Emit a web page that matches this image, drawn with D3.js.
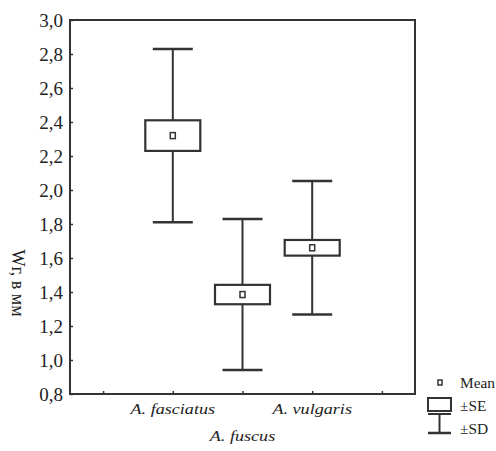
<!DOCTYPE html>
<html>
<head>
<meta charset="utf-8">
<script src="https://cdn.jsdelivr.net/npm/d3@7"></script>
<style>
  body { margin: 0; background: #fff; }
  text { font-family: "Liberation Serif", Tinos, "Times New Roman", Times, "DejaVu Serif", serif; fill: #222; }
</style>
</head>
<body>
<svg id="chart"></svg>
<script>
// Data
const species = ["A. fasciatus", "A. fuscus", "A. vulgaris"];
const means = [2.32, 1.385, 1.66];
const se = [0.09, 0.057, 0.046];
const sd = [0.51, 0.444, 0.393];
const yTicks = [0.8, 1.0, 1.2, 1.4, 1.6, 1.8, 2.0, 2.2, 2.4, 2.6, 2.8, 3.0];
const xTicks = [0, 1, 2, 3, 4];
const labelRow = [0, 1, 0]; // staggered category labels

const width = 496, height = 451;
const frame = {left: 70, right: 415, top: 20, bottom: 394};
const ink = "#333";
const serif = "'Liberation Serif', Tinos, 'Times New Roman', Times, 'DejaVu Serif', serif";

const svg = d3.select("#chart")
  .attr("width", width)
  .attr("height", height);

// Scales
const x = d3.scaleLinear()
  .domain([-0.475, 4.475])
  .range([frame.left, frame.right]);

const y = d3.scaleLinear()
  .domain([0.8, 3.0])
  .range([frame.bottom, frame.top]);

// Y axis
const yAxis = d3.axisLeft(y)
  .tickValues(yTicks)
  .tickSize(-3)
  .tickPadding(7)
  .tickFormat(d => d.toFixed(1).replace(".", ","));

const gy = svg.append("g")
  .attr("transform", "translate(" + frame.left + ",0)")
  .call(yAxis)
  .attr("font-family", serif);
gy.select(".domain").remove();
gy.selectAll("line").attr("stroke", ink).attr("stroke-width", 1.5);
gy.selectAll("text")
  .style("font-family", serif)
  .style("font-size", "19px")
  .attr("fill", "#222");

// X axis (ticks only, labels added below)
const xAxis = d3.axisBottom(x)
  .tickValues(xTicks)
  .tickSize(-3)
  .tickFormat("");

const gx = svg.append("g")
  .attr("transform", "translate(0," + frame.bottom + ")")
  .call(xAxis);
gx.select(".domain").remove();
gx.selectAll("line").attr("stroke", ink).attr("stroke-width", 1.5);

// Frame
svg.append("rect")
  .attr("x", frame.left)
  .attr("y", frame.top)
  .attr("width", frame.right - frame.left)
  .attr("height", frame.bottom - frame.top)
  .attr("fill", "none")
  .attr("stroke", ink)
  .attr("stroke-width", 2);

// Category labels (the original type is a little stretched sideways)
svg.selectAll(".cat")
  .data(species)
  .enter().append("text")
  .attr("class", "cat")
  .attr("transform", (d, i) => "translate(" + x(i + 1) + "," + (labelRow[i] ? 441 : 414) + ") scale(1.25,1)")
  .attr("text-anchor", "middle")
  .style("font-family", serif)
  .style("font-size", "14.5px")
  .style("font-style", "italic")
  .text(d => d);

// Y axis title
svg.append("text")
  .attr("transform", "translate(12,283) rotate(90)")
  .attr("text-anchor", "middle")
  .style("font-family", serif)
  .style("font-size", "18px")
  .text("Wг, в мм");

// Boxes
const boxW = 55, capW = 40;
const groups = svg.selectAll(".grp")
  .data(species)
  .enter().append("g")
  .attr("class", "grp");

// whisker stems
groups.append("line")
  .attr("x1", (d, i) => x(i + 1))
  .attr("x2", (d, i) => x(i + 1))
  .attr("y1", (d, i) => y(means[i] + sd[i]))
  .attr("y2", (d, i) => y(means[i] - sd[i]))
  .attr("stroke", ink)
  .attr("stroke-width", 2);

// caps
[1, -1].forEach(sign => {
  groups.append("line")
    .attr("x1", (d, i) => x(i + 1) - capW / 2)
    .attr("x2", (d, i) => x(i + 1) + capW / 2)
    .attr("y1", (d, i) => y(means[i] + sign * sd[i]))
    .attr("y2", (d, i) => y(means[i] + sign * sd[i]))
    .attr("stroke", ink)
    .attr("stroke-width", 2.5);
});

// SE boxes
groups.append("rect")
  .attr("x", (d, i) => x(i + 1) - boxW / 2)
  .attr("y", (d, i) => y(means[i] + se[i]))
  .attr("width", boxW)
  .attr("height", (d, i) => y(means[i] - se[i]) - y(means[i] + se[i]))
  .attr("fill", "#fff")
  .attr("stroke", ink)
  .attr("stroke-width", 2.2);

// mean markers
groups.append("rect")
  .attr("x", (d, i) => x(i + 1) - 2.5)
  .attr("y", (d, i) => y(means[i]) - 3)
  .attr("width", 5)
  .attr("height", 6)
  .attr("fill", "#fff")
  .attr("stroke", ink)
  .attr("stroke-width", 1.5);

// Legend
const lg = svg.append("g");
lg.append("rect")
  .attr("x", 438).attr("y", 380).attr("width", 4).attr("height", 5)
  .attr("fill", "#fff").attr("stroke", ink).attr("stroke-width", 1.5);
lg.append("rect")
  .attr("x", 428).attr("y", 398).attr("width", 23).attr("height", 13)
  .attr("fill", "#fff").attr("stroke", ink).attr("stroke-width", 2);
lg.append("line")
  .attr("x1", 428).attr("x2", 451).attr("y1", 414).attr("y2", 414)
  .attr("stroke", ink).attr("stroke-width", 2);
lg.append("line")
  .attr("x1", 439.5).attr("x2", 439.5).attr("y1", 414).attr("y2", 433)
  .attr("stroke", ink).attr("stroke-width", 2);
lg.append("line")
  .attr("x1", 428).attr("x2", 451).attr("y1", 433).attr("y2", 433)
  .attr("stroke", ink).attr("stroke-width", 2.5);

const legendText = [["Mean", 383], ["±SE", 406], ["±SD", 429]];
lg.selectAll(".lt")
  .data(legendText)
  .enter().append("text")
  .attr("class", "lt")
  .attr("transform", d => "translate(460," + d[1] + ") scale(1.1,1)")
  .attr("dy", "0.35em")
  .style("font-family", serif)
  .style("font-size", "14px")
  .text(d => d[0]);
</script>
</body>
</html>
